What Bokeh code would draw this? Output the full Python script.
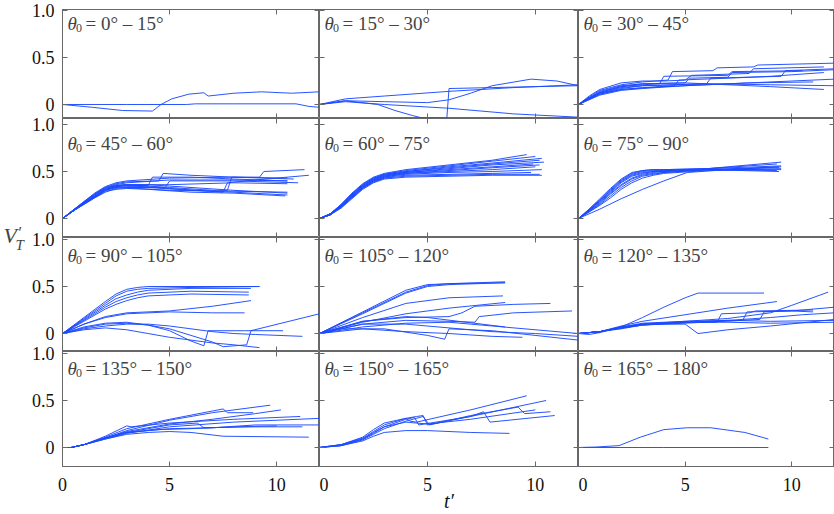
from bokeh.plotting import figure
from bokeh.models import FixedTicker, LinearAxis, Label, Range1d
from bokeh.layouts import row, column
from bokeh.embed import file_html
from bokeh.resources import INLINE

# ---------------------------------------------------------------- axes
T_TICKS = [0, 5, 10]
V_TICKS = [0, 0.5, 1.0]
V_TICK_TEXT = {0: "0", 0.5: "0.5", 1: "1.0"}
T_RANGE = (0, 12)

THETA_BINS = ["0° – 15°", "15° – 30°", "30° – 45°",
              "45° – 60°", "60° – 75°", "75° – 90°",
              "90° – 105°", "105° – 120°", "120° – 135°",
              "135° – 150°", "150° – 165°", "165° – 180°"]

# ---------------------------------------------------------------- trajectories, one list of runs per theta bin
t_p01 = [[0, 1.4, 2.8, 4.2, 4.6, 5.1, 5.9, 6.6, 6.8, 8.0, 9.3, 10.7, 12.0],
         [0, 3, 5.8, 6.2, 8, 10.9, 11.5, 12]]
v_p01 = [[0, -0.03, -0.064, -0.07, 0, 0.06, 0.11, 0.125, 0.09, 0.12, 0.135, 0.12, 0.135],
         [0, 0, 0, 0.007, 0.007, 0.007, -0.02, -0.03]]

t_p02 = [[0, 1.2, 3, 6, 9, 12],
         [0, 1.2, 2.7, 3.5, 4.3, 4.7, 5.3, 5.9, 6.0, 8, 10, 12],
         [0, 1.2, 3, 5, 6, 7, 8, 9.8, 11, 12],
         [0, 1.2, 3, 6, 9, 12]]
v_p02 = [[0, 0.06, 0.09, 0.14, 0.18, 0.21],
         [0, 0.04, 0.0, -0.064, -0.117, -0.14, -0.145, -0.145, 0.17, 0.18, 0.19, 0.2],
         [0, 0.04, 0.03, 0.02, 0.05, 0.12, 0.2, 0.27, 0.25, 0.2],
         [0, 0.03, 0.0, -0.04, -0.1, -0.135]]

t_p03 = [[0, 0.5, 1, 2, 3, 4.2, 4.4, 6.3, 6.5, 8.2, 8.4, 12],
         [0, 0.5, 1, 2, 3, 5, 7, 9, 11.5],
         [0, 0.5, 1, 2, 3, 4, 5, 5.3, 8, 8.2, 11.5],
         [0, 0.5, 1, 2, 3, 4.5, 4.7, 7, 9, 11.5],
         [0, 0.5, 1, 2, 3, 6, 6.2, 9.5, 9.7, 12],
         [0, 1, 2, 3, 6, 9, 12],
         [0, 1, 2, 3, 5, 5.2, 7, 7.2, 10, 12],
         [0, 1, 2, 3, 5, 8, 11],
         [0, 1, 2, 3, 3.8, 4, 7, 7.2, 10.5],
         [0, 1, 2, 4, 7, 10, 12]]
v_p03 = [[0, 0.08, 0.15, 0.21, 0.24, 0.26, 0.35, 0.36, 0.39, 0.40, 0.42, 0.44],
         [0, 0.07, 0.13, 0.19, 0.22, 0.23, 0.21, 0.19, 0.16],
         [0, 0.09, 0.16, 0.23, 0.25, 0.25, 0.26, 0.31, 0.33, 0.38, 0.40],
         [0, 0.06, 0.11, 0.16, 0.18, 0.20, 0.26, 0.28, 0.30, 0.34],
         [0, 0.07, 0.12, 0.18, 0.20, 0.22, 0.28, 0.30, 0.36, 0.38],
         [0, 0.12, 0.17, 0.20, 0.22, 0.21, 0.20],
         [0, 0.14, 0.20, 0.22, 0.23, 0.28, 0.29, 0.34, 0.35, 0.37],
         [0, 0.10, 0.15, 0.17, 0.20, 0.23, 0.24],
         [0, 0.13, 0.19, 0.21, 0.22, 0.30, 0.31, 0.35, 0.36],
         [0, 0.11, 0.16, 0.19, 0.22, 0.25, 0.27]]

t_p04 = [[0, 0.5, 1, 1.5, 2, 2.5, 3, 4, 6, 8, 10.5],
         [0, 0.5, 1, 1.5, 2, 2.5, 3, 4, 6, 8, 10.5],
         [0, 0.5, 1, 1.5, 2, 2.5, 3, 4, 4.2, 6, 8, 10.5],
         [0, 0.5, 1, 1.5, 2, 2.5, 3, 4.5, 4.7, 6, 8, 10.8],
         [0, 0.5, 1, 1.5, 2, 2.5, 3, 5, 7, 7.7, 7.9, 9.2, 9.4, 11.3],
         [0, 0.5, 1, 1.5, 2, 2.5, 3, 5, 8, 10.5],
         [0, 0.5, 1, 1.5, 2, 2.5, 3, 5, 8, 10.5],
         [0, 0.5, 1, 1.5, 2, 2.5, 3, 4, 6, 8, 10.4],
         [0, 0.5, 1, 1.5, 2, 2.5, 3, 5, 7.5, 7.7, 9, 11.5],
         [0, 0.5, 1, 1.5, 2, 2.5, 3, 5, 8, 10.5],
         [0, 0.5, 1, 1.5, 2, 2.5, 3, 4.8, 5, 8, 11],
         [0, 0.5, 1, 1.5, 2, 2.5, 3.5, 5, 8, 10.5]]
v_p04 = [[0, 0.08, 0.16, 0.24, 0.31, 0.35, 0.36, 0.36, 0.33, 0.30, 0.27],
         [0, 0.08, 0.15, 0.22, 0.28, 0.32, 0.33, 0.33, 0.30, 0.28, 0.25],
         [0, 0.08, 0.16, 0.23, 0.30, 0.34, 0.35, 0.35, 0.44, 0.44, 0.42, 0.40],
         [0, 0.09, 0.17, 0.26, 0.33, 0.37, 0.39, 0.40, 0.48, 0.46, 0.44, 0.42],
         [0, 0.08, 0.17, 0.25, 0.32, 0.35, 0.36, 0.33, 0.30, 0.30, 0.44, 0.44, 0.50, 0.52],
         [0, 0.09, 0.18, 0.27, 0.34, 0.38, 0.40, 0.43, 0.44, 0.43],
         [0, 0.09, 0.18, 0.26, 0.33, 0.36, 0.38, 0.41, 0.41, 0.40],
         [0, 0.08, 0.15, 0.22, 0.29, 0.31, 0.32, 0.31, 0.28, 0.27, 0.24],
         [0, 0.08, 0.16, 0.24, 0.31, 0.34, 0.35, 0.32, 0.28, 0.38, 0.41, 0.46],
         [0, 0.09, 0.17, 0.25, 0.32, 0.35, 0.36, 0.36, 0.38, 0.37],
         [0, 0.08, 0.16, 0.23, 0.30, 0.33, 0.34, 0.33, 0.40, 0.40, 0.38],
         [0, 0.08, 0.16, 0.23, 0.30, 0.33, 0.32, 0.30, 0.29, 0.28]]

T5 = [0, 0.5, 1, 1.5, 2, 2.5, 3, 3.5, 4, 6, 8]
t_p05 = [T5 + [9.6], T5 + [10.0], T5 + [10.3], T5 + [10.2], T5 + [10.4], T5 + [9.9],
         T5 + [10.2], T5 + [10.0], T5 + [10.3], T5 + [9.8], T5 + [10.2], T5 + [10.3]]
v_p05 = [[0, 0.05, 0.15, 0.27, 0.37, 0.44, 0.48, 0.50, 0.52, 0.57, 0.62, 0.68],
         [0, 0.05, 0.15, 0.26, 0.36, 0.43, 0.47, 0.49, 0.51, 0.56, 0.61, 0.66],
         [0, 0.05, 0.14, 0.26, 0.36, 0.43, 0.47, 0.49, 0.50, 0.55, 0.59, 0.64],
         [0, 0.05, 0.14, 0.25, 0.35, 0.42, 0.46, 0.48, 0.50, 0.54, 0.58, 0.62],
         [0, 0.05, 0.14, 0.25, 0.35, 0.42, 0.46, 0.48, 0.49, 0.53, 0.57, 0.60],
         [0, 0.04, 0.13, 0.24, 0.34, 0.41, 0.45, 0.47, 0.49, 0.52, 0.55, 0.58],
         [0, 0.04, 0.13, 0.24, 0.34, 0.41, 0.45, 0.47, 0.48, 0.51, 0.54, 0.57],
         [0, 0.04, 0.13, 0.23, 0.33, 0.40, 0.44, 0.46, 0.48, 0.50, 0.52, 0.55],
         [0, 0.04, 0.12, 0.23, 0.33, 0.40, 0.44, 0.46, 0.47, 0.49, 0.50, 0.52],
         [0, 0.04, 0.12, 0.22, 0.32, 0.39, 0.43, 0.45, 0.46, 0.47, 0.48, 0.49],
         [0, 0.04, 0.12, 0.22, 0.32, 0.39, 0.43, 0.44, 0.45, 0.46, 0.47, 0.47],
         [0, 0.04, 0.11, 0.21, 0.31, 0.38, 0.42, 0.43, 0.44, 0.45, 0.46, 0.46]]

T6 = [0, 0.5, 1, 1.5, 2, 2.5, 3, 3.5, 4, 6]
t_p06 = [T6 + [9.5], T6 + [9.3], T6 + [9.5], T6 + [9.4], T6 + [9.5],
         T6 + [9.4], T6 + [9.5], T6 + [9.3], T6 + [9.5],
         [0, 1, 2, 3, 4, 5.1, 7, 9.4]]
v_p06 = [[0, 0.10, 0.21, 0.32, 0.42, 0.49, 0.51, 0.52, 0.52, 0.53, 0.60],
         [0, 0.10, 0.20, 0.31, 0.41, 0.48, 0.51, 0.52, 0.52, 0.53, 0.58],
         [0, 0.09, 0.19, 0.30, 0.40, 0.47, 0.50, 0.51, 0.51, 0.53, 0.56],
         [0, 0.09, 0.19, 0.29, 0.39, 0.46, 0.49, 0.50, 0.51, 0.52, 0.54],
         [0, 0.09, 0.18, 0.28, 0.38, 0.45, 0.48, 0.50, 0.50, 0.52, 0.52],
         [0, 0.08, 0.17, 0.27, 0.36, 0.43, 0.47, 0.49, 0.50, 0.52, 0.50],
         [0, 0.08, 0.16, 0.26, 0.35, 0.42, 0.46, 0.48, 0.49, 0.52, 0.55],
         [0, 0.07, 0.15, 0.24, 0.33, 0.40, 0.45, 0.47, 0.49, 0.52, 0.51],
         [0, 0.07, 0.14, 0.22, 0.31, 0.38, 0.43, 0.46, 0.48, 0.51, 0.53],
         [0, 0.10, 0.21, 0.31, 0.40, 0.49, 0.52, 0.55]]

t_p07 = [[0, 1, 2, 2.5, 3, 3.5, 4, 6, 9.2],
         [0, 1, 2, 2.5, 3, 3.5, 4, 6, 9.2],
         [0, 1, 2, 2.5, 3, 3.5, 4, 6, 8.8],
         [0, 1, 2, 2.5, 3, 3.5, 4, 6, 8.7],
         [0, 1, 2, 2.5, 3, 3.5, 4, 6, 8.7],
         [0, 1, 2, 3, 5, 7, 8.8],
         [0, 1, 2, 3, 5, 7, 8.5],
         [0, 1, 2, 3, 4, 5, 6, 6.6, 6.8, 8.5, 10.3],
         [0, 1, 2, 3, 4, 5, 6, 7, 7.5, 8.6, 8.8, 12],
         [0, 1, 2, 3, 4, 5, 6, 7, 8, 9.2],
         [0, 1, 2, 3, 4, 5, 6, 7, 8, 9, 11.2]]
v_p07 = [[0, 0.17, 0.34, 0.42, 0.47, 0.49, 0.50, 0.50, 0.50],
         [0, 0.16, 0.32, 0.40, 0.45, 0.47, 0.48, 0.49, 0.50],
         [0, 0.15, 0.30, 0.37, 0.41, 0.44, 0.46, 0.48, 0.48],
         [0, 0.14, 0.28, 0.34, 0.38, 0.41, 0.43, 0.45, 0.44],
         [0, 0.13, 0.26, 0.31, 0.35, 0.38, 0.40, 0.42, 0.41],
         [0, 0.10, 0.18, 0.22, 0.24, 0.29, 0.35],
         [0, 0.10, 0.17, 0.21, 0.23, 0.22, 0.22],
         [0, 0.07, 0.11, 0.12, 0.09, 0.03, -0.08, -0.13, 0.03, 0.03, 0.03],
         [0, 0.06, 0.10, 0.11, 0.09, 0.05, -0.02, -0.09, -0.14, -0.12, 0.03, 0.21],
         [0, 0.04, 0.06, 0.04, 0.0, -0.04, -0.07, -0.10, -0.12, -0.15],
         [0, 0.05, 0.08, 0.10, 0.10, 0.08, 0.05, 0.02, 0.0, -0.01, -0.03]]

t_p08 = [[0, 2, 4, 5, 6, 8.6],
         [0, 2, 4, 5, 6, 8.6],
         [0, 2, 4, 5, 6, 8.6],
         [0, 2, 4, 6, 8.5],
         [0, 2, 4, 6, 8.6],
         [0, 2, 4, 6, 6.6, 7.2, 9, 10.7],
         [0, 2, 4, 6, 7.2, 7.4, 9, 11.7],
         [0, 2, 4, 6, 8, 10, 12],
         [0, 1, 3, 5, 5.8, 6.0, 8, 12],
         [0, 2, 4, 6, 8, 9.4],
         [0, 2, 4, 6, 8, 12],
         [0, 2, 4, 5, 8.6]]
v_p08 = [[0, 0.23, 0.46, 0.52, 0.53, 0.54],
         [0, 0.22, 0.44, 0.51, 0.53, 0.55],
         [0, 0.21, 0.43, 0.50, 0.52, 0.54],
         [0, 0.17, 0.32, 0.38, 0.40],
         [0, 0.12, 0.21, 0.27, 0.33],
         [0, 0.13, 0.17, 0.18, 0.22, 0.29, 0.31, 0.32],
         [0, 0.10, 0.14, 0.13, 0.12, 0.18, 0.22, 0.24],
         [0, 0.10, 0.10, 0.06, 0.02, 0.0, -0.03],
         [0, 0.05, 0.05, -0.02, -0.06, 0.05, 0.03, -0.07],
         [0, 0.05, 0.02, 0.0, -0.03, -0.04],
         [0, 0.07, 0.11, 0.12, 0.08, 0.0],
         [0, 0.13, 0.18, 0.17, 0.07]]

t_p09 = [[0, 0.5, 1, 2, 3, 4, 5, 5.6, 8.7],
         [0, 1, 2, 3, 5, 7, 9.3],
         [0, 1, 2, 3, 5, 7, 9, 10, 11.7],
         [0, 1, 2, 3, 5, 6.5, 6.7, 8, 8.3, 11],
         [0, 1, 2, 3, 5, 7.7, 7.9, 10, 12],
         [0, 1, 2, 3, 5, 8.5, 8.7, 10, 11],
         [0, 1, 2, 3, 5, 7, 9, 12],
         [0, 1, 2, 3, 5, 5.6, 7, 9, 12],
         [0, 1, 2, 3, 5, 7, 9, 12],
         [0, 1, 2, 3, 5, 7, 9, 10.5, 12]]
v_p09 = [[0, -0.01, 0.01, 0.07, 0.17, 0.28, 0.38, 0.43, 0.43],
         [0, 0.02, 0.08, 0.13, 0.20, 0.27, 0.34],
         [0, 0.02, 0.07, 0.11, 0.13, 0.16, 0.22, 0.30, 0.44],
         [0, 0.02, 0.06, 0.10, 0.12, 0.12, 0.21, 0.22, 0.24, 0.25],
         [0, 0.02, 0.05, 0.09, 0.12, 0.14, 0.23, 0.24, 0.28],
         [0, 0.02, 0.06, 0.09, 0.11, 0.15, 0.23, 0.24, 0.23],
         [0, 0.02, 0.06, 0.10, 0.13, 0.14, 0.13, 0.14],
         [0, 0.02, 0.06, 0.10, 0.10, 0.0, 0.04, 0.08, 0.15],
         [0, 0.02, 0.07, 0.10, 0.12, 0.12, 0.11, 0.12],
         [0, 0.02, 0.06, 0.09, 0.12, 0.14, 0.17, 0.20, 0.22]]

t_p10 = [[0, 0.4, 1, 2, 3, 5, 7, 9.7],
         [0, 0.4, 1, 2, 3, 5, 7.5, 7.7, 8.9],
         [0, 0.4, 1, 2, 3, 5, 7, 9, 10.2],
         [0, 0.4, 1, 2, 3, 3.2, 5, 8, 11.1],
         [0, 0.4, 1, 2, 3, 5, 8, 12],
         [0, 0.4, 1, 2, 3, 5, 6.3, 6.6, 9, 11.2],
         [0, 0.4, 1, 2, 3, 4, 5, 6, 7.5, 11.5],
         [0, 0.4, 1, 2, 3, 5, 7, 9, 12],
         [0, 0.4, 1, 2, 3, 4.5, 6, 8, 10]]
v_p10 = [[0, 0, 0.03, 0.10, 0.18, 0.29, 0.37, 0.45],
         [0, 0, 0.03, 0.11, 0.20, 0.30, 0.41, 0.37, 0.37],
         [0, 0, 0.03, 0.10, 0.17, 0.25, 0.30, 0.36, 0.40],
         [0, 0, 0.03, 0.12, 0.23, 0.22, 0.26, 0.30, 0.33],
         [0, 0, 0.03, 0.09, 0.15, 0.22, 0.27, 0.31],
         [0, 0, 0.03, 0.10, 0.16, 0.24, 0.26, 0.21, 0.22, 0.22],
         [0, 0, 0.03, 0.09, 0.14, 0.16, 0.17, 0.16, 0.12, 0.11],
         [0, 0, 0.03, 0.10, 0.16, 0.20, 0.21, 0.24, 0.24],
         [0, 0, 0.03, 0.10, 0.16, 0.19, 0.20, 0.22, 0.23]]

t_p11 = [[0, 1, 2, 2.5, 3, 4, 4.2, 4.5, 7, 9.6],
         [0, 1, 2, 2.5, 3, 4, 4.5, 4.8, 5, 7, 10.5],
         [0, 1, 2, 2.5, 3, 4, 4.4, 4.6, 7, 7.6, 7.9, 10.9],
         [0, 1, 2, 2.5, 3, 4, 4.8, 5.1, 7, 9.2, 9.5, 10.7],
         [0, 1, 2, 2.5, 3, 4, 5, 7, 8.8],
         [0, 1, 2, 2.5, 3, 4, 5, 7, 10]]
v_p11 = [[0, 0.03, 0.11, 0.19, 0.26, 0.31, 0.28, 0.27, 0.40, 0.55],
         [0, 0.03, 0.10, 0.17, 0.24, 0.31, 0.33, 0.34, 0.24, 0.33, 0.50],
         [0, 0.03, 0.09, 0.15, 0.22, 0.30, 0.32, 0.24, 0.33, 0.38, 0.27, 0.34],
         [0, 0.02, 0.08, 0.14, 0.20, 0.28, 0.33, 0.24, 0.34, 0.43, 0.36, 0.38],
         [0, 0.02, 0.07, 0.12, 0.16, 0.18, 0.18, 0.16, 0.15],
         [0, 0.02, 0.09, 0.16, 0.22, 0.27, 0.25, 0.30, 0.40]]

t_p12 = [[0, 0.8, 1.9, 2.9, 4.0, 5.1, 6.2, 7.8, 8.9],
         [0, 4, 8.9]]
v_p12 = [[0, 0.005, 0.02, 0.11, 0.19, 0.21, 0.21, 0.16, 0.09],
         [0, 0, 0]]

PANEL_T = [t_p01, t_p02, t_p03, t_p04, t_p05, t_p06,
           t_p07, t_p08, t_p09, t_p10, t_p11, t_p12]
PANEL_V = [v_p01, v_p02, v_p03, v_p04, v_p05, v_p06,
           v_p07, v_p08, v_p09, v_p10, v_p11, v_p12]

# ---------------------------------------------------------------- styling
FONT = "Liberation Serif, Times New Roman, serif"
LINE = "#1c4bff"
FRAME = "#686868"
FRAME_W = [257, 259, 256]
ROW_H = [109, 119, 114, 115]
ROW_V = [(-0.149, 1.011), (-0.202, 1.064), (-0.191, 1.021), (-0.202, 1.021)]
TITLE_DROP = [14, 25, 18, 17]       # title baseline below the frame top, px
LEFT_BORDER = 33
TOP_BORDER = 9
BOTTOM_BORDER = 48
OVERLAP = 12                        # rows reach up over the row above so tick text is not cut


def add_axis(p, side, ticks, labelled, overrides=None):
    ax = LinearAxis(ticker=FixedTicker(ticks=ticks))
    ax.major_tick_in = 5
    ax.major_tick_out = 0
    ax.minor_tick_in = 0
    ax.minor_tick_out = 0
    ax.axis_line_color = FRAME
    ax.major_tick_line_color = FRAME
    ax.major_label_text_font = FONT
    ax.major_label_text_color = "#111111"
    if labelled:
        ax.major_label_text_font_size = "18px"
        ax.major_label_standoff = 8 if side == "left" else 11
        if overrides:
            ax.major_label_overrides = overrides
    else:
        ax.major_label_text_font_size = "0px"
        ax.major_label_standoff = 0
        ax.major_label_overrides = {t: "" for t in ticks}
    p.add_layout(ax, side)
    return ax


def make_panel(r, c):
    i = 3 * r + c
    p = figure(frame_width=FRAME_W[c], frame_height=ROW_H[r],
               x_range=Range1d(*T_RANGE), y_range=Range1d(*ROW_V[r]),
               x_axis_location=None, y_axis_location=None,
               output_backend="svg", toolbar_location=None,
               min_border_left=LEFT_BORDER if c == 0 else 0,
               min_border_right=0,
               min_border_top=TOP_BORDER if r == 0 else OVERLAP,
               min_border_bottom=BOTTOM_BORDER if r == 3 else 0)
    p.grid.visible = False
    p.outline_line_color = FRAME
    p.background_fill_color = "white"
    p.border_fill_color = "white" if r == 0 else None

    add_axis(p, "left", V_TICKS, c == 0, V_TICK_TEXT)
    add_axis(p, "right", V_TICKS, False)
    add_axis(p, "above", T_TICKS, False)
    bottom = add_axis(p, "below", T_TICKS, r == 3)
    if r == 3 and c == 1:
        bottom.axis_label = "t′"
        bottom.axis_label_text_font = FONT
        bottom.axis_label_text_font_style = "italic"
        bottom.axis_label_text_font_size = "20px"
        bottom.axis_label_text_color = "#111111"
        bottom.axis_label_standoff = -4

    p.multi_line(xs=PANEL_T[i], ys=PANEL_V[i], line_color=LINE,
                 line_width=1.0, line_alpha=0.95)

    base = ROW_H[r] - TITLE_DROP[r]
    p.add_layout(Label(x=5, y=base, x_units="screen", y_units="screen",
                       text="θ", text_font=FONT, text_font_style="italic",
                       text_font_size="19px", text_baseline="alphabetic"))
    p.add_layout(Label(x=13.5, y=base - 4, x_units="screen", y_units="screen",
                       text="0", text_font=FONT, text_font_size="12px",
                       text_baseline="alphabetic"))
    p.add_layout(Label(x=23, y=base, x_units="screen", y_units="screen",
                       text="= " + THETA_BINS[i], text_font=FONT,
                       text_font_size="19px", text_baseline="alphabetic"))
    return p


rows = []
for r in range(4):
    figs = [make_panel(r, c) for c in range(3)]
    rows.append(row(*figs, margin=(0, 0, 0, 0) if r == 0 else (-OVERLAP, 0, 0, 0)))
grid = column(*rows)

# narrow strip carrying the shared vertical-axis title
strip = figure(frame_width=28, frame_height=sum(ROW_H),
               x_range=(0, 1), y_range=(0, 1),
               x_axis_location=None, y_axis_location=None,
               output_backend="svg", toolbar_location=None,
               min_border_left=0, min_border_right=0,
               min_border_top=TOP_BORDER, min_border_bottom=BOTTOM_BORDER)
strip.outline_line_color = None
strip.grid.visible = False
ylab_base = TOP_BORDER + sum(ROW_H) - 235
strip.add_layout(Label(x=3, y=ylab_base, x_units="screen", y_units="screen",
                       text="V", text_font=FONT, text_font_style="italic",
                       text_font_size="22px", text_baseline="alphabetic"))
strip.add_layout(Label(x=18, y=ylab_base + 3, x_units="screen", y_units="screen",
                       text="′", text_font=FONT, text_font_size="16px",
                       text_baseline="alphabetic"))
strip.add_layout(Label(x=15, y=ylab_base - 9, x_units="screen", y_units="screen",
                       text="T", text_font=FONT, text_font_style="italic",
                       text_font_size="15px", text_baseline="alphabetic"))

layout = row(strip, grid)

with open("out.html", "w") as f:
    f.write(file_html(layout, INLINE))
